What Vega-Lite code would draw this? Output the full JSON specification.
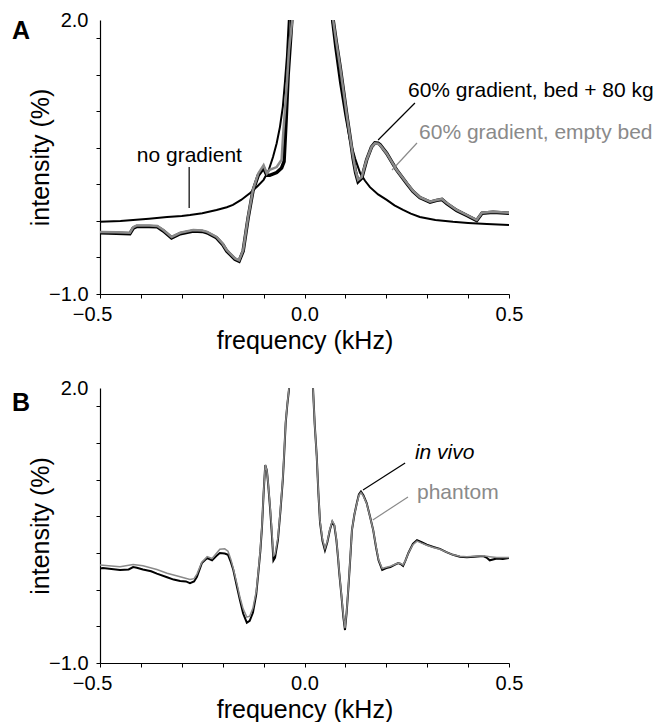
{
  "$schema": "https://vega.github.io/schema/vega-lite/v6.json",
  "padding": {"left": 12, "top": 10, "right": 5, "bottom": 0},
  "bounds": "flush",
  "spacing": 94,
  "background": "white",
  "config": {
    "view": {"stroke": null},
    "font": "Liberation Sans",
    "axis": {
      "grid": false,
      "domainColor": "#000000",
      "domainWidth": 1.2,
      "tickColor": "#000000",
      "tickWidth": 1,
      "tickSize": 4,
      "labelColor": "#000000",
      "labelFont": "Liberation Sans",
      "labelFontSize": 20,
      "titleColor": "#000000",
      "titleFont": "Liberation Sans",
      "titleFontSize": 25,
      "titleFontWeight": "normal"
    },
    "axisX": {"titlePadding": 4, "labelPadding": 6},
    "axisY": {"titlePadding": -5, "titleFontSize": 25, "labelPadding": 8},
    "title": {"fontSize": 25, "fontWeight": "bold", "anchor": "start", "frame": "group", "baseline": "alphabetic", "offset": 0, "color": "#000000", "font": "Liberation Sans"},
    "text": {"fontSize": 21, "font": "Liberation Sans", "align": "left", "baseline": "alphabetic"}
  },
  "resolve": {"scale": {"color": "independent"}},
  "datasets": {
    "A_lines": [
      {"series": "no gradient", "f": -0.5, "i": -0.21},
      {"series": "no gradient", "f": -0.45, "i": -0.2},
      {"series": "no gradient", "f": -0.419, "i": -0.19},
      {"series": "no gradient", "f": -0.38, "i": -0.175},
      {"series": "no gradient", "f": -0.336, "i": -0.157},
      {"series": "no gradient", "f": -0.3, "i": -0.145},
      {"series": "no gradient", "f": -0.28, "i": -0.135},
      {"series": "no gradient", "f": -0.25, "i": -0.115},
      {"series": "no gradient", "f": -0.215, "i": -0.08},
      {"series": "no gradient", "f": -0.19, "i": -0.05},
      {"series": "no gradient", "f": -0.175, "i": -0.025},
      {"series": "no gradient", "f": -0.155, "i": 0.03},
      {"series": "no gradient", "f": -0.133, "i": 0.106},
      {"series": "no gradient", "f": -0.115, "i": 0.18},
      {"series": "no gradient", "f": -0.1, "i": 0.25},
      {"series": "no gradient", "f": -0.088, "i": 0.35},
      {"series": "no gradient", "f": -0.077, "i": 0.5},
      {"series": "no gradient", "f": -0.068, "i": 0.65},
      {"series": "no gradient", "f": -0.06, "i": 0.83},
      {"series": "no gradient", "f": -0.053, "i": 1.05},
      {"series": "no gradient", "f": -0.048, "i": 1.31},
      {"series": "no gradient", "f": -0.043, "i": 1.6},
      {"series": "no gradient", "f": -0.04, "i": 1.86},
      {"series": "no gradient", "f": -0.036, "i": 2.2},
      {"series": "no gradient", "f": 0.065, "i": 2.2},
      {"series": "no gradient", "f": 0.067, "i": 2.0},
      {"series": "no gradient", "f": 0.075, "i": 1.7},
      {"series": "no gradient", "f": 0.087, "i": 1.31},
      {"series": "no gradient", "f": 0.1, "i": 0.95},
      {"series": "no gradient", "f": 0.111, "i": 0.686},
      {"series": "no gradient", "f": 0.124, "i": 0.48},
      {"series": "no gradient", "f": 0.136, "i": 0.325},
      {"series": "no gradient", "f": 0.148, "i": 0.24},
      {"series": "no gradient", "f": 0.16, "i": 0.17},
      {"series": "no gradient", "f": 0.18, "i": 0.09},
      {"series": "no gradient", "f": 0.201, "i": 0.03},
      {"series": "no gradient", "f": 0.22, "i": -0.03},
      {"series": "no gradient", "f": 0.241, "i": -0.08},
      {"series": "no gradient", "f": 0.26, "i": -0.12},
      {"series": "no gradient", "f": 0.282, "i": -0.157},
      {"series": "no gradient", "f": 0.32, "i": -0.19},
      {"series": "no gradient", "f": 0.363, "i": -0.21},
      {"series": "no gradient", "f": 0.4, "i": -0.222},
      {"series": "no gradient", "f": 0.446, "i": -0.233},
      {"series": "no gradient", "f": 0.5, "i": -0.245},

      {"series": "60% gradient, bed + 80 kg", "f": -0.5, "i": -0.33},
      {"series": "60% gradient, bed + 80 kg", "f": -0.46, "i": -0.335},
      {"series": "60% gradient, bed + 80 kg", "f": -0.427, "i": -0.34},
      {"series": "60% gradient, bed + 80 kg", "f": -0.419, "i": -0.28},
      {"series": "60% gradient, bed + 80 kg", "f": -0.41, "i": -0.26},
      {"series": "60% gradient, bed + 80 kg", "f": -0.38, "i": -0.26},
      {"series": "60% gradient, bed + 80 kg", "f": -0.36, "i": -0.265},
      {"series": "60% gradient, bed + 80 kg", "f": -0.345, "i": -0.31},
      {"series": "60% gradient, bed + 80 kg", "f": -0.325, "i": -0.385},
      {"series": "60% gradient, bed + 80 kg", "f": -0.304, "i": -0.34},
      {"series": "60% gradient, bed + 80 kg", "f": -0.272, "i": -0.31},
      {"series": "60% gradient, bed + 80 kg", "f": -0.25, "i": -0.315},
      {"series": "60% gradient, bed + 80 kg", "f": -0.238, "i": -0.33},
      {"series": "60% gradient, bed + 80 kg", "f": -0.215, "i": -0.385},
      {"series": "60% gradient, bed + 80 kg", "f": -0.2, "i": -0.46},
      {"series": "60% gradient, bed + 80 kg", "f": -0.19, "i": -0.53},
      {"series": "60% gradient, bed + 80 kg", "f": -0.17, "i": -0.62},
      {"series": "60% gradient, bed + 80 kg", "f": -0.16, "i": -0.64},
      {"series": "60% gradient, bed + 80 kg", "f": -0.15, "i": -0.53},
      {"series": "60% gradient, bed + 80 kg", "f": -0.138, "i": -0.17},
      {"series": "60% gradient, bed + 80 kg", "f": -0.126, "i": 0.13},
      {"series": "60% gradient, bed + 80 kg", "f": -0.113, "i": 0.3},
      {"series": "60% gradient, bed + 80 kg", "f": -0.1, "i": 0.38},
      {"series": "60% gradient, bed + 80 kg", "f": -0.092, "i": 0.3},
      {"series": "60% gradient, bed + 80 kg", "f": -0.085, "i": 0.3},
      {"series": "60% gradient, bed + 80 kg", "f": -0.068, "i": 0.33},
      {"series": "60% gradient, bed + 80 kg", "f": -0.056, "i": 0.38},
      {"series": "60% gradient, bed + 80 kg", "f": -0.05, "i": 0.45},
      {"series": "60% gradient, bed + 80 kg", "f": -0.045, "i": 0.9},
      {"series": "60% gradient, bed + 80 kg", "f": -0.04, "i": 1.4},
      {"series": "60% gradient, bed + 80 kg", "f": -0.034, "i": 1.8},
      {"series": "60% gradient, bed + 80 kg", "f": -0.028, "i": 2.2},
      {"series": "60% gradient, bed + 80 kg", "f": 0.068, "i": 2.2},
      {"series": "60% gradient, bed + 80 kg", "f": 0.07, "i": 2.0},
      {"series": "60% gradient, bed + 80 kg", "f": 0.078, "i": 1.75},
      {"series": "60% gradient, bed + 80 kg", "f": 0.087, "i": 1.49},
      {"series": "60% gradient, bed + 80 kg", "f": 0.096, "i": 1.2},
      {"series": "60% gradient, bed + 80 kg", "f": 0.104, "i": 0.94},
      {"series": "60% gradient, bed + 80 kg", "f": 0.112, "i": 0.7},
      {"series": "60% gradient, bed + 80 kg", "f": 0.119, "i": 0.48},
      {"series": "60% gradient, bed + 80 kg", "f": 0.125, "i": 0.33},
      {"series": "60% gradient, bed + 80 kg", "f": 0.131, "i": 0.23},
      {"series": "60% gradient, bed + 80 kg", "f": 0.14, "i": 0.27},
      {"series": "60% gradient, bed + 80 kg", "f": 0.146, "i": 0.37},
      {"series": "60% gradient, bed + 80 kg", "f": 0.152, "i": 0.47},
      {"series": "60% gradient, bed + 80 kg", "f": 0.164, "i": 0.61},
      {"series": "60% gradient, bed + 80 kg", "f": 0.172, "i": 0.655},
      {"series": "60% gradient, bed + 80 kg", "f": 0.18, "i": 0.65},
      {"series": "60% gradient, bed + 80 kg", "f": 0.185, "i": 0.635},
      {"series": "60% gradient, bed + 80 kg", "f": 0.201, "i": 0.54},
      {"series": "60% gradient, bed + 80 kg", "f": 0.213, "i": 0.45},
      {"series": "60% gradient, bed + 80 kg", "f": 0.225, "i": 0.36},
      {"series": "60% gradient, bed + 80 kg", "f": 0.25, "i": 0.21},
      {"series": "60% gradient, bed + 80 kg", "f": 0.265, "i": 0.125},
      {"series": "60% gradient, bed + 80 kg", "f": 0.282, "i": 0.055},
      {"series": "60% gradient, bed + 80 kg", "f": 0.307, "i": 0.005},
      {"series": "60% gradient, bed + 80 kg", "f": 0.323, "i": 0.025},
      {"series": "60% gradient, bed + 80 kg", "f": 0.336, "i": 0.035},
      {"series": "60% gradient, bed + 80 kg", "f": 0.348, "i": -0.01},
      {"series": "60% gradient, bed + 80 kg", "f": 0.372, "i": -0.085},
      {"series": "60% gradient, bed + 80 kg", "f": 0.397, "i": -0.14},
      {"series": "60% gradient, bed + 80 kg", "f": 0.421, "i": -0.195},
      {"series": "60% gradient, bed + 80 kg", "f": 0.434, "i": -0.115},
      {"series": "60% gradient, bed + 80 kg", "f": 0.461, "i": -0.105},
      {"series": "60% gradient, bed + 80 kg", "f": 0.5, "i": -0.115},

      {"series": "60% gradient, empty bed", "f": -0.5, "i": -0.32},
      {"series": "60% gradient, empty bed", "f": -0.46, "i": -0.325},
      {"series": "60% gradient, empty bed", "f": -0.427, "i": -0.33},
      {"series": "60% gradient, empty bed", "f": -0.419, "i": -0.27},
      {"series": "60% gradient, empty bed", "f": -0.41, "i": -0.25},
      {"series": "60% gradient, empty bed", "f": -0.38, "i": -0.25},
      {"series": "60% gradient, empty bed", "f": -0.36, "i": -0.255},
      {"series": "60% gradient, empty bed", "f": -0.345, "i": -0.3},
      {"series": "60% gradient, empty bed", "f": -0.325, "i": -0.375},
      {"series": "60% gradient, empty bed", "f": -0.304, "i": -0.33},
      {"series": "60% gradient, empty bed", "f": -0.272, "i": -0.3},
      {"series": "60% gradient, empty bed", "f": -0.25, "i": -0.305},
      {"series": "60% gradient, empty bed", "f": -0.238, "i": -0.32},
      {"series": "60% gradient, empty bed", "f": -0.215, "i": -0.375},
      {"series": "60% gradient, empty bed", "f": -0.2, "i": -0.45},
      {"series": "60% gradient, empty bed", "f": -0.19, "i": -0.52},
      {"series": "60% gradient, empty bed", "f": -0.17, "i": -0.61},
      {"series": "60% gradient, empty bed", "f": -0.16, "i": -0.63},
      {"series": "60% gradient, empty bed", "f": -0.15, "i": -0.52},
      {"series": "60% gradient, empty bed", "f": -0.138, "i": -0.16},
      {"series": "60% gradient, empty bed", "f": -0.126, "i": 0.14},
      {"series": "60% gradient, empty bed", "f": -0.113, "i": 0.32},
      {"series": "60% gradient, empty bed", "f": -0.1, "i": 0.41},
      {"series": "60% gradient, empty bed", "f": -0.092, "i": 0.32},
      {"series": "60% gradient, empty bed", "f": -0.085, "i": 0.36},
      {"series": "60% gradient, empty bed", "f": -0.068, "i": 0.39},
      {"series": "60% gradient, empty bed", "f": -0.056, "i": 0.47},
      {"series": "60% gradient, empty bed", "f": -0.052, "i": 0.76},
      {"series": "60% gradient, empty bed", "f": -0.043, "i": 1.31},
      {"series": "60% gradient, empty bed", "f": -0.038, "i": 1.67},
      {"series": "60% gradient, empty bed", "f": -0.03, "i": 2.0},
      {"series": "60% gradient, empty bed", "f": -0.026, "i": 2.2},
      {"series": "60% gradient, empty bed", "f": 0.068, "i": 2.2},
      {"series": "60% gradient, empty bed", "f": 0.07, "i": 2.0},
      {"series": "60% gradient, empty bed", "f": 0.078, "i": 1.75},
      {"series": "60% gradient, empty bed", "f": 0.087, "i": 1.49},
      {"series": "60% gradient, empty bed", "f": 0.096, "i": 1.2},
      {"series": "60% gradient, empty bed", "f": 0.104, "i": 0.94},
      {"series": "60% gradient, empty bed", "f": 0.112, "i": 0.7},
      {"series": "60% gradient, empty bed", "f": 0.119, "i": 0.5},
      {"series": "60% gradient, empty bed", "f": 0.125, "i": 0.35},
      {"series": "60% gradient, empty bed", "f": 0.131, "i": 0.25},
      {"series": "60% gradient, empty bed", "f": 0.14, "i": 0.28},
      {"series": "60% gradient, empty bed", "f": 0.146, "i": 0.38},
      {"series": "60% gradient, empty bed", "f": 0.152, "i": 0.47},
      {"series": "60% gradient, empty bed", "f": 0.164, "i": 0.61},
      {"series": "60% gradient, empty bed", "f": 0.172, "i": 0.65},
      {"series": "60% gradient, empty bed", "f": 0.18, "i": 0.645},
      {"series": "60% gradient, empty bed", "f": 0.185, "i": 0.63},
      {"series": "60% gradient, empty bed", "f": 0.201, "i": 0.54},
      {"series": "60% gradient, empty bed", "f": 0.213, "i": 0.45},
      {"series": "60% gradient, empty bed", "f": 0.225, "i": 0.36},
      {"series": "60% gradient, empty bed", "f": 0.25, "i": 0.215},
      {"series": "60% gradient, empty bed", "f": 0.265, "i": 0.13},
      {"series": "60% gradient, empty bed", "f": 0.282, "i": 0.06},
      {"series": "60% gradient, empty bed", "f": 0.307, "i": 0.01},
      {"series": "60% gradient, empty bed", "f": 0.323, "i": 0.03},
      {"series": "60% gradient, empty bed", "f": 0.336, "i": 0.04},
      {"series": "60% gradient, empty bed", "f": 0.348, "i": -0.005},
      {"series": "60% gradient, empty bed", "f": 0.372, "i": -0.08},
      {"series": "60% gradient, empty bed", "f": 0.397, "i": -0.135},
      {"series": "60% gradient, empty bed", "f": 0.421, "i": -0.19},
      {"series": "60% gradient, empty bed", "f": 0.434, "i": -0.11},
      {"series": "60% gradient, empty bed", "f": 0.461, "i": -0.1},
      {"series": "60% gradient, empty bed", "f": 0.5, "i": -0.11}
    ],
    "A_notes": [
      {"series": "no gradient", "f": -0.41, "i": 0.445, "f2": -0.282, "i2": 0.39, "f3": -0.282, "i3": -0.058},
      {"series": "60% gradient, bed + 80 kg", "f": 0.253, "i": 1.157, "f2": 0.27, "i2": 1.091, "f3": 0.18, "i3": 0.686},
      {"series": "60% gradient, empty bed", "f": 0.28, "i": 0.697, "f2": 0.275, "i2": 0.653, "f3": 0.214, "i3": 0.358}
    ],
    "B_lines": [
      {"series": "in vivo", "f": -0.5, "i": 0.03},
      {"series": "in vivo", "f": -0.493, "i": 0.036},
      {"series": "in vivo", "f": -0.451, "i": 0.015},
      {"series": "in vivo", "f": -0.43, "i": 0.02},
      {"series": "in vivo", "f": -0.419, "i": 0.047},
      {"series": "in vivo", "f": -0.41, "i": 0.04},
      {"series": "in vivo", "f": -0.395, "i": 0.02},
      {"series": "in vivo", "f": -0.375, "i": 0.0},
      {"series": "in vivo", "f": -0.361, "i": -0.025},
      {"series": "in vivo", "f": -0.336, "i": -0.065},
      {"series": "in vivo", "f": -0.32, "i": -0.09},
      {"series": "in vivo", "f": -0.304, "i": -0.105},
      {"series": "in vivo", "f": -0.29, "i": -0.11},
      {"series": "in vivo", "f": -0.28, "i": -0.13},
      {"series": "in vivo", "f": -0.27, "i": -0.11},
      {"series": "in vivo", "f": -0.263, "i": -0.06},
      {"series": "in vivo", "f": -0.251, "i": 0.09},
      {"series": "in vivo", "f": -0.238, "i": 0.145},
      {"series": "in vivo", "f": -0.226, "i": 0.12},
      {"series": "in vivo", "f": -0.215, "i": 0.17},
      {"series": "in vivo", "f": -0.207, "i": 0.2},
      {"series": "in vivo", "f": -0.195, "i": 0.195},
      {"series": "in vivo", "f": -0.187, "i": 0.18},
      {"series": "in vivo", "f": -0.18, "i": 0.1},
      {"series": "in vivo", "f": -0.174, "i": 0.015},
      {"series": "in vivo", "f": -0.165, "i": -0.17},
      {"series": "in vivo", "f": -0.158, "i": -0.31},
      {"series": "in vivo", "f": -0.15, "i": -0.46},
      {"series": "in vivo", "f": -0.141, "i": -0.56},
      {"series": "in vivo", "f": -0.134, "i": -0.54},
      {"series": "in vivo", "f": -0.126, "i": -0.45},
      {"series": "in vivo", "f": -0.118, "i": -0.25},
      {"series": "in vivo", "f": -0.113, "i": -0.02},
      {"series": "in vivo", "f": -0.108, "i": 0.22},
      {"series": "in vivo", "f": -0.104, "i": 0.48},
      {"series": "in vivo", "f": -0.1, "i": 0.85},
      {"series": "in vivo", "f": -0.096, "i": 1.16},
      {"series": "in vivo", "f": -0.092, "i": 1.1},
      {"series": "in vivo", "f": -0.089, "i": 0.96},
      {"series": "in vivo", "f": -0.084, "i": 0.68},
      {"series": "in vivo", "f": -0.08, "i": 0.42},
      {"series": "in vivo", "f": -0.076, "i": 0.12},
      {"series": "in vivo", "f": -0.072, "i": 0.15},
      {"series": "in vivo", "f": -0.065, "i": 0.34},
      {"series": "in vivo", "f": -0.059, "i": 0.65},
      {"series": "in vivo", "f": -0.053, "i": 1.0},
      {"series": "in vivo", "f": -0.05, "i": 1.25},
      {"series": "in vivo", "f": -0.046, "i": 1.62},
      {"series": "in vivo", "f": -0.042, "i": 1.82},
      {"series": "in vivo", "f": -0.038, "i": 1.98},
      {"series": "in vivo", "f": -0.036, "i": 2.2},
      {"series": "in vivo", "f": 0.019, "i": 2.2},
      {"series": "in vivo", "f": 0.021, "i": 1.98},
      {"series": "in vivo", "f": 0.025, "i": 1.6},
      {"series": "in vivo", "f": 0.03, "i": 1.25},
      {"series": "in vivo", "f": 0.034, "i": 0.85},
      {"series": "in vivo", "f": 0.038, "i": 0.53},
      {"series": "in vivo", "f": 0.044, "i": 0.33},
      {"series": "in vivo", "f": 0.05, "i": 0.23},
      {"series": "in vivo", "f": 0.056, "i": 0.32},
      {"series": "in vivo", "f": 0.062, "i": 0.45},
      {"series": "in vivo", "f": 0.068, "i": 0.54},
      {"series": "in vivo", "f": 0.073, "i": 0.5},
      {"series": "in vivo", "f": 0.078, "i": 0.34},
      {"series": "in vivo", "f": 0.082, "i": 0.15},
      {"series": "in vivo", "f": 0.085, "i": -0.02},
      {"series": "in vivo", "f": 0.09, "i": -0.25},
      {"series": "in vivo", "f": 0.095, "i": -0.5},
      {"series": "in vivo", "f": 0.099, "i": -0.64},
      {"series": "in vivo", "f": 0.103, "i": -0.45},
      {"series": "in vivo", "f": 0.107, "i": -0.2},
      {"series": "in vivo", "f": 0.112, "i": 0.15},
      {"series": "in vivo", "f": 0.116, "i": 0.45},
      {"series": "in vivo", "f": 0.122, "i": 0.62},
      {"series": "in vivo", "f": 0.128, "i": 0.745},
      {"series": "in vivo", "f": 0.133, "i": 0.84},
      {"series": "in vivo", "f": 0.138, "i": 0.87},
      {"series": "in vivo", "f": 0.144, "i": 0.83},
      {"series": "in vivo", "f": 0.152, "i": 0.745},
      {"series": "in vivo", "f": 0.16, "i": 0.6},
      {"series": "in vivo", "f": 0.168, "i": 0.45},
      {"series": "in vivo", "f": 0.175, "i": 0.26},
      {"series": "in vivo", "f": 0.181, "i": 0.12},
      {"series": "in vivo", "f": 0.19, "i": 0.015},
      {"series": "in vivo", "f": 0.2, "i": 0.035},
      {"series": "in vivo", "f": 0.21, "i": 0.047},
      {"series": "in vivo", "f": 0.22, "i": 0.07},
      {"series": "in vivo", "f": 0.229, "i": 0.09},
      {"series": "in vivo", "f": 0.235, "i": 0.08},
      {"series": "in vivo", "f": 0.241, "i": 0.06},
      {"series": "in vivo", "f": 0.247, "i": 0.12},
      {"series": "in vivo", "f": 0.254, "i": 0.2},
      {"series": "in vivo", "f": 0.265, "i": 0.3},
      {"series": "in vivo", "f": 0.275, "i": 0.34},
      {"series": "in vivo", "f": 0.285, "i": 0.32},
      {"series": "in vivo", "f": 0.299, "i": 0.29},
      {"series": "in vivo", "f": 0.315, "i": 0.265},
      {"series": "in vivo", "f": 0.331, "i": 0.245},
      {"series": "in vivo", "f": 0.347, "i": 0.21},
      {"series": "in vivo", "f": 0.363, "i": 0.18},
      {"series": "in vivo", "f": 0.38, "i": 0.16},
      {"series": "in vivo", "f": 0.397, "i": 0.155},
      {"series": "in vivo", "f": 0.415, "i": 0.16},
      {"series": "in vivo", "f": 0.43, "i": 0.165},
      {"series": "in vivo", "f": 0.437, "i": 0.167},
      {"series": "in vivo", "f": 0.445, "i": 0.15},
      {"series": "in vivo", "f": 0.453, "i": 0.12},
      {"series": "in vivo", "f": 0.47, "i": 0.14},
      {"series": "in vivo", "f": 0.485, "i": 0.135},
      {"series": "in vivo", "f": 0.5, "i": 0.145},

      {"series": "phantom", "f": -0.5, "i": 0.07},
      {"series": "phantom", "f": -0.451, "i": 0.05},
      {"series": "phantom", "f": -0.419, "i": 0.075},
      {"series": "phantom", "f": -0.395, "i": 0.06},
      {"series": "phantom", "f": -0.361, "i": 0.02},
      {"series": "phantom", "f": -0.336, "i": -0.02},
      {"series": "phantom", "f": -0.304, "i": -0.06},
      {"series": "phantom", "f": -0.28, "i": -0.09},
      {"series": "phantom", "f": -0.27, "i": -0.08},
      {"series": "phantom", "f": -0.263, "i": -0.03},
      {"series": "phantom", "f": -0.251, "i": 0.1},
      {"series": "phantom", "f": -0.238, "i": 0.16},
      {"series": "phantom", "f": -0.226, "i": 0.14},
      {"series": "phantom", "f": -0.207, "i": 0.24},
      {"series": "phantom", "f": -0.195, "i": 0.245},
      {"series": "phantom", "f": -0.187, "i": 0.22},
      {"series": "phantom", "f": -0.18, "i": 0.13},
      {"series": "phantom", "f": -0.174, "i": 0.03},
      {"series": "phantom", "f": -0.165, "i": -0.14},
      {"series": "phantom", "f": -0.158, "i": -0.28},
      {"series": "phantom", "f": -0.15, "i": -0.41},
      {"series": "phantom", "f": -0.141, "i": -0.5},
      {"series": "phantom", "f": -0.134, "i": -0.49},
      {"series": "phantom", "f": -0.126, "i": -0.4},
      {"series": "phantom", "f": -0.118, "i": -0.22},
      {"series": "phantom", "f": -0.113, "i": 0.0},
      {"series": "phantom", "f": -0.108, "i": 0.24},
      {"series": "phantom", "f": -0.104, "i": 0.5},
      {"series": "phantom", "f": -0.1, "i": 0.86},
      {"series": "phantom", "f": -0.096, "i": 1.16},
      {"series": "phantom", "f": -0.092, "i": 1.1},
      {"series": "phantom", "f": -0.089, "i": 0.97},
      {"series": "phantom", "f": -0.084, "i": 0.7},
      {"series": "phantom", "f": -0.08, "i": 0.46},
      {"series": "phantom", "f": -0.076, "i": 0.17},
      {"series": "phantom", "f": -0.072, "i": 0.19},
      {"series": "phantom", "f": -0.065, "i": 0.37},
      {"series": "phantom", "f": -0.059, "i": 0.67},
      {"series": "phantom", "f": -0.053, "i": 1.02},
      {"series": "phantom", "f": -0.05, "i": 1.27},
      {"series": "phantom", "f": -0.046, "i": 1.63},
      {"series": "phantom", "f": -0.042, "i": 1.83},
      {"series": "phantom", "f": -0.038, "i": 1.99},
      {"series": "phantom", "f": -0.036, "i": 2.2},
      {"series": "phantom", "f": 0.019, "i": 2.2},
      {"series": "phantom", "f": 0.021, "i": 1.98},
      {"series": "phantom", "f": 0.025, "i": 1.6},
      {"series": "phantom", "f": 0.03, "i": 1.25},
      {"series": "phantom", "f": 0.034, "i": 0.86},
      {"series": "phantom", "f": 0.038, "i": 0.55},
      {"series": "phantom", "f": 0.044, "i": 0.35},
      {"series": "phantom", "f": 0.05, "i": 0.25},
      {"series": "phantom", "f": 0.056, "i": 0.33},
      {"series": "phantom", "f": 0.062, "i": 0.46},
      {"series": "phantom", "f": 0.068, "i": 0.55},
      {"series": "phantom", "f": 0.073, "i": 0.51},
      {"series": "phantom", "f": 0.078, "i": 0.35},
      {"series": "phantom", "f": 0.082, "i": 0.16},
      {"series": "phantom", "f": 0.085, "i": -0.01},
      {"series": "phantom", "f": 0.09, "i": -0.24},
      {"series": "phantom", "f": 0.095, "i": -0.48},
      {"series": "phantom", "f": 0.099, "i": -0.62},
      {"series": "phantom", "f": 0.103, "i": -0.44},
      {"series": "phantom", "f": 0.107, "i": -0.19},
      {"series": "phantom", "f": 0.112, "i": 0.16},
      {"series": "phantom", "f": 0.116, "i": 0.45},
      {"series": "phantom", "f": 0.122, "i": 0.62},
      {"series": "phantom", "f": 0.128, "i": 0.74},
      {"series": "phantom", "f": 0.133, "i": 0.83},
      {"series": "phantom", "f": 0.138, "i": 0.86},
      {"series": "phantom", "f": 0.144, "i": 0.82},
      {"series": "phantom", "f": 0.152, "i": 0.74},
      {"series": "phantom", "f": 0.16, "i": 0.6},
      {"series": "phantom", "f": 0.168, "i": 0.45},
      {"series": "phantom", "f": 0.175, "i": 0.27},
      {"series": "phantom", "f": 0.181, "i": 0.13},
      {"series": "phantom", "f": 0.19, "i": 0.03},
      {"series": "phantom", "f": 0.2, "i": 0.045},
      {"series": "phantom", "f": 0.21, "i": 0.055},
      {"series": "phantom", "f": 0.22, "i": 0.075},
      {"series": "phantom", "f": 0.229, "i": 0.09},
      {"series": "phantom", "f": 0.235, "i": 0.085},
      {"series": "phantom", "f": 0.241, "i": 0.07},
      {"series": "phantom", "f": 0.247, "i": 0.12},
      {"series": "phantom", "f": 0.254, "i": 0.2},
      {"series": "phantom", "f": 0.265, "i": 0.29},
      {"series": "phantom", "f": 0.275, "i": 0.33},
      {"series": "phantom", "f": 0.285, "i": 0.31},
      {"series": "phantom", "f": 0.299, "i": 0.285},
      {"series": "phantom", "f": 0.315, "i": 0.26},
      {"series": "phantom", "f": 0.331, "i": 0.24},
      {"series": "phantom", "f": 0.347, "i": 0.21},
      {"series": "phantom", "f": 0.363, "i": 0.18},
      {"series": "phantom", "f": 0.38, "i": 0.165},
      {"series": "phantom", "f": 0.397, "i": 0.16},
      {"series": "phantom", "f": 0.415, "i": 0.165},
      {"series": "phantom", "f": 0.437, "i": 0.17},
      {"series": "phantom", "f": 0.453, "i": 0.16},
      {"series": "phantom", "f": 0.47, "i": 0.15},
      {"series": "phantom", "f": 0.5, "i": 0.15}
    ],
    "B_notes": [
      {"series": "in vivo", "f": 0.27, "i": 1.225, "f2": 0.246, "i2": 1.182, "f3": 0.143, "i3": 0.887},
      {"series": "phantom", "f": 0.275, "i": 0.79, "f2": 0.253, "i2": 0.811, "f3": 0.167, "i3": 0.56}
    ]
  },
  "vconcat": [
    {
      "width": 409,
      "height": 274,
      "title": {"text": "A", "dx": -88, "dy": 38},
      "encoding": {
        "x": {"field": "f", "type": "quantitative", "scale": {"domain": [-0.5, 0.5], "nice": false, "zero": false},
          "axis": {"title": "frequency (kHz)", "values": [-0.5, -0.4, -0.3, -0.2, -0.1, 0, 0.1, 0.2, 0.3, 0.4, 0.5],
            "labelExpr": "abs(datum.value) < 0.001 || abs(datum.value) > 0.499 ? format(datum.value, '.1f') : ''",
            "labelFlush": false,
            "labelOffset": {"condition": {"test": "datum.value < -0.45", "value": -8}, "value": 0}}},
        "y": {"field": "i", "type": "quantitative", "scale": {"domain": [-1, 2], "nice": false, "zero": false},
          "axis": {"title": "intensity (%)", "values": [-1, -0.6, -0.2, 0.2, 0.6, 1, 1.4, 1.8, 2],
            "labelExpr": "datum.value < -0.99 || datum.value > 1.99 ? format(datum.value, '.1f') : ''",
            "tickOpacity": {"condition": {"test": "datum.value > 1.9", "value": 0}, "value": 1}}},
        "color": {"field": "series", "type": "nominal", "legend": null,
          "scale": {"domain": ["no gradient", "60% gradient, bed + 80 kg", "60% gradient, empty bed"], "range": ["#000000", "#000000", "#8a8a8a"]}}
      },
      "layer": [
        {"data": {"name": "A_lines"}, "transform": [{"filter": "datum.series == 'no gradient'"}],
          "mark": {"type": "line", "clip": true, "strokeWidth": 2}},
        {"data": {"name": "A_lines"}, "transform": [{"filter": "datum.series == '60% gradient, bed + 80 kg'"}],
          "mark": {"type": "line", "clip": true, "strokeWidth": 3.5}},
        {"data": {"name": "A_lines"}, "transform": [{"filter": "datum.series == '60% gradient, empty bed'"}],
          "mark": {"type": "line", "clip": true, "strokeWidth": 2.5}},
        {"data": {"name": "A_notes"}, "mark": {"type": "rule", "strokeWidth": 1.2},
          "encoding": {"x": {"field": "f2", "type": "quantitative"}, "y": {"field": "i2", "type": "quantitative"},
            "x2": {"field": "f3"}, "y2": {"field": "i3"}}},
        {"data": {"name": "A_notes"}, "mark": {"type": "text"},
          "encoding": {"text": {"field": "series"}}}
      ]
    },
    {
      "width": 409,
      "height": 275,
      "title": {"text": "B", "dx": -88, "dy": 42},
      "encoding": {
        "x": {"field": "f", "type": "quantitative", "scale": {"domain": [-0.5, 0.5], "nice": false, "zero": false},
          "axis": {"title": "frequency (kHz)", "values": [-0.5, -0.4, -0.3, -0.2, -0.1, 0, 0.1, 0.2, 0.3, 0.4, 0.5],
            "labelExpr": "abs(datum.value) < 0.001 || abs(datum.value) > 0.499 ? format(datum.value, '.1f') : ''",
            "labelFlush": false,
            "labelOffset": {"condition": {"test": "datum.value < -0.45", "value": -8}, "value": 0}}},
        "y": {"field": "i", "type": "quantitative", "scale": {"domain": [-1, 2], "nice": false, "zero": false},
          "axis": {"title": "intensity (%)", "values": [-1, -0.6, -0.2, 0.2, 0.6, 1, 1.4, 1.8, 2],
            "labelExpr": "datum.value < -0.99 || datum.value > 1.99 ? format(datum.value, '.1f') : ''",
            "tickOpacity": {"condition": {"test": "datum.value > 1.9", "value": 0}, "value": 1}}},
        "color": {"field": "series", "type": "nominal", "legend": null,
          "scale": {"domain": ["in vivo", "phantom"], "range": ["#000000", "#8a8a8a"]}}
      },
      "layer": [
        {"data": {"name": "B_lines"}, "transform": [{"filter": "datum.series == 'in vivo'"}],
          "mark": {"type": "line", "clip": true, "strokeWidth": 2}},
        {"data": {"name": "B_lines"}, "transform": [{"filter": "datum.series == 'phantom'"}],
          "mark": {"type": "line", "clip": true, "strokeWidth": 1.5}},
        {"data": {"name": "B_notes"}, "mark": {"type": "rule", "strokeWidth": 1.2},
          "encoding": {"x": {"field": "f2", "type": "quantitative"}, "y": {"field": "i2", "type": "quantitative"},
            "x2": {"field": "f3"}, "y2": {"field": "i3"}}},
        {"data": {"name": "B_notes"}, "transform": [{"filter": "datum.series == 'in vivo'"}],
          "mark": {"type": "text", "fontStyle": "italic"},
          "encoding": {"text": {"field": "series"}}},
        {"data": {"name": "B_notes"}, "transform": [{"filter": "datum.series == 'phantom'"}],
          "mark": {"type": "text"},
          "encoding": {"text": {"field": "series"}}}
      ]
    }
  ]
}
